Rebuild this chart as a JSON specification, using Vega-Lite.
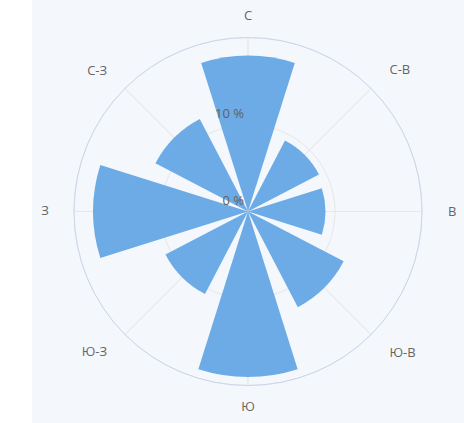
{
  "$schema": "https://vega.github.io/schema/vega-lite/v6.json",
  "width": 432,
  "height": 423,
  "padding": {"left": 32, "top": 0, "right": 0, "bottom": 0},
  "autosize": {"type": "none"},
  "background": "white",
  "view": {"fill": "#f4f8fc", "stroke": null},
  "config": {"text": {"font": "Open Sans"}},
  "data": {"values": [
    {"dir": "С", "deg": 0, "v": 17.9},
    {"dir": "С-В", "deg": 45, "v": 9.2},
    {"dir": "В", "deg": 90, "v": 8.9},
    {"dir": "Ю-В", "deg": 135, "v": 12.4},
    {"dir": "Ю", "deg": 180, "v": 19.0},
    {"dir": "Ю-З", "deg": 225, "v": 10.7},
    {"dir": "З", "deg": 270, "v": 17.8},
    {"dir": "С-З", "deg": 315, "v": 12.0}
  ]},
  "layer": [
    {
      "mark": {"type": "arc", "filled": false, "color": "#e8e8e8", "strokeWidth": 1},
      "encoding": {
        "theta": {"aggregate": "count", "type": "quantitative", "stack": true, "scale": {"range": [0, 6.2832]}},
        "order": {"field": "deg", "type": "quantitative"},
        "radius": {"datum": 20, "type": "quantitative", "scale": {"type": "linear", "domain": [0, 20], "range": [0, 174], "zero": true}}
      }
    },
    {
      "data": {"values": [{}]},
      "mark": {"type": "arc", "filled": false, "color": "#e6e6e6", "strokeWidth": 1, "theta": 0, "theta2": 6.2832},
      "encoding": {"radius": {"datum": 10, "type": "quantitative"}}
    },
    {
      "data": {"values": [{}]},
      "mark": {"type": "arc", "filled": false, "color": "#ccd6eb", "strokeWidth": 1, "theta": 0, "theta2": 6.2832},
      "encoding": {"radius": {"datum": 20, "type": "quantitative"}}
    },
    {
      "transform": [
        {"aggregate": [{"op": "count", "as": "n"}], "groupby": ["dir", "deg", "v"]},
        {"stack": "n", "groupby": [], "sort": [{"field": "deg", "order": "ascending"}], "as": ["a0", "a1"]}
      ],
      "mark": {"type": "arc", "padAngle": 0.175, "color": "#6dabe7"},
      "encoding": {
        "theta": {"field": "a0", "type": "quantitative", "scale": {"domain": [0, 8], "range": [-0.3927, 5.8905]}},
        "theta2": {"field": "a1"},
        "radius": {"field": "v", "type": "quantitative"}
      }
    },
    {
      "transform": [{"filter": {"field": "dir", "oneOf": ["С", "Ю"]}}],
      "mark": {"type": "text", "align": "center", "baseline": "middle", "fontSize": 13, "color": "#666666"},
      "encoding": {
        "theta": {"field": "deg", "type": "quantitative", "stack": null, "scale": {"domain": [0, 360], "range": [0, 6.2832]}},
        "radius": {"datum": 22.5, "type": "quantitative"},
        "text": {"field": "dir"}
      }
    },
    {
      "transform": [{"filter": {"field": "dir", "oneOf": ["С-В", "В", "Ю-В"]}}],
      "mark": {"type": "text", "align": "left", "baseline": "middle", "fontSize": 13, "color": "#666666"},
      "encoding": {
        "theta": {"field": "deg", "type": "quantitative", "stack": null, "scale": {"domain": [0, 360], "range": [0, 6.2832]}},
        "radius": {"datum": 23.0, "type": "quantitative"},
        "text": {"field": "dir"}
      }
    },
    {
      "transform": [{"filter": {"field": "dir", "oneOf": ["С-З", "З", "Ю-З"]}}],
      "mark": {"type": "text", "align": "right", "baseline": "middle", "fontSize": 13, "color": "#666666"},
      "encoding": {
        "theta": {"field": "deg", "type": "quantitative", "stack": null, "scale": {"domain": [0, 360], "range": [0, 6.2832]}},
        "radius": {"datum": 22.9, "type": "quantitative"},
        "text": {"field": "dir"}
      }
    },
    {
      "data": {"values": [{"p": 0, "lab": "0 %"}, {"p": 10, "lab": "10 %"}]},
      "mark": {"type": "text", "align": "right", "baseline": "middle", "dx": -4, "dy": -11, "theta": 0, "fontSize": 13, "color": "#606060"},
      "encoding": {
        "radius": {"field": "p", "type": "quantitative"},
        "text": {"field": "lab"}
      }
    }
  ],
  "resolve": {"scale": {"theta": "independent"}}
}
